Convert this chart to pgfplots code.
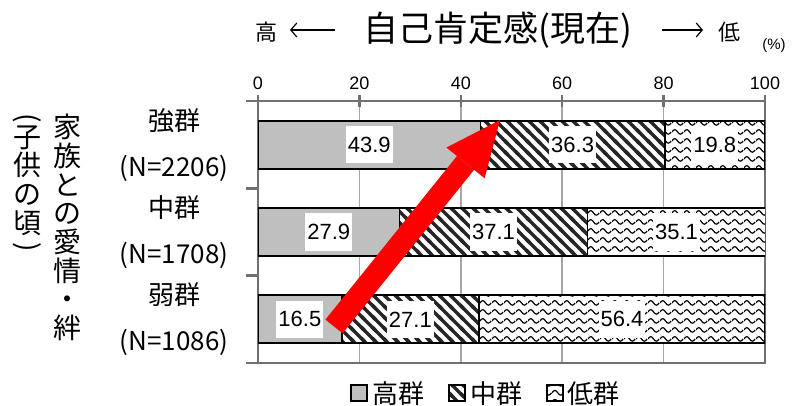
\documentclass[border=0pt]{standalone}
\usepackage{pgfplots}
\pgfplotsset{compat=1.18}
\usepackage{pgfplotstable}
\usepackage{fontspec}
\setmainfont{Liberation Sans}
\newfontfamily\jp{Noto Sans CJK JP}
\usetikzlibrary{patterns,arrows.meta}

\definecolor{axisgray}{HTML}{707070}
\definecolor{gridgray}{HTML}{A6A6A6}
\definecolor{bargray}{HTML}{BFBFBF}
\definecolor{stripe}{HTML}{262626}

% wide downward diagonal stripes
\pgfdeclarepatternformonly{diagstripes}{\pgfqpoint{-2pt}{-2pt}}{\pgfqpoint{13pt}{13pt}}{\pgfqpoint{11pt}{11pt}}{%
  \pgfsetlinewidth{3.5pt}%
  \pgfpathmoveto{\pgfqpoint{-2pt}{13pt}}\pgfpathlineto{\pgfqpoint{13pt}{-2pt}}%
  \pgfpathmoveto{\pgfqpoint{-2pt}{2pt}}\pgfpathlineto{\pgfqpoint{2pt}{-2pt}}%
  \pgfpathmoveto{\pgfqpoint{9pt}{13pt}}\pgfpathlineto{\pgfqpoint{13pt}{9pt}}%
  \pgfusepath{stroke}}

% horizontal wave lines
\pgfdeclarepatternformonly{waves}{\pgfqpoint{0pt}{0pt}}{\pgfqpoint{12pt}{9pt}}{\pgfqpoint{12pt}{9pt}}{%
  \pgfsetlinewidth{1.3pt}%
  \pgfpathmoveto{\pgfqpoint{0pt}{4.5pt}}%
  \pgfpathcurveto{\pgfqpoint{2pt}{7.8pt}}{\pgfqpoint{4pt}{7.8pt}}{\pgfqpoint{6pt}{4.5pt}}%
  \pgfpathcurveto{\pgfqpoint{8pt}{1.2pt}}{\pgfqpoint{10pt}{1.2pt}}{\pgfqpoint{12pt}{4.5pt}}%
  \pgfusepath{stroke}}

\pgfplotstableread{
pos hi mid lo
0 43.9 36.3 19.8
1 27.9 37.1 35.1
2 16.5 27.1 56.4
}\selfesteem
% centre of each stacked segment, for the value labels
\pgfplotstablecreatecol[create col/expr={\thisrow{hi}/2}]{chi}\selfesteem
\pgfplotstablecreatecol[create col/expr={\thisrow{hi}+\thisrow{mid}/2}]{cmid}\selfesteem
\pgfplotstablecreatecol[create col/expr={\thisrow{hi}+\thisrow{mid}+\thisrow{lo}/2}]{clo}\selfesteem

\pgfplotsset{
  frame/.style={
    at={(258pt,43pt)}, anchor=south west,
    width=507pt, height=262pt, scale only axis,
    xmin=0, xmax=100, ymin=-0.5, ymax=2.5, y dir=reverse,
  },
  seg/.style={draw=black, line width=1.8pt},
  vlabel/.style={draw=none, mark=none, point meta=explicit, nodes near coords,
    every node near coord/.append style={anchor=center, fill=white, inner xsep=2pt, inner ysep=11pt,
      text=black, font=\fontsize{22}{22}\selectfont},
    nodes near coords={\fontsize{22}{22}\selectfont
      \pgfmathprintnumber[fixed,fixed zerofill,precision=1,assume math mode=true]{\pgfplotspointmeta}}},
}

\begin{document}
\begin{tikzpicture}
\begin{axis}[
  frame,
  xbar stacked, bar width=0.55,
  axis line style={draw=axisgray, line width=2.5pt},
  xtick={0,20,40,60,80,100}, xtick pos=right, xticklabel pos=right,
  xmajorgrids, grid style={draw=gridgray, line width=1.5pt},
  ytick={-0.5,0.5,1.5,2.5}, yticklabels={}, ytick pos=left,
  extra y ticks={0,1,2},
  extra y tick labels={{強群\\(N=2206)},{中群\\(N=1708)},{弱群\\(N=1086)}},
  extra y tick style={grid=none, tick style={draw=none}},
  yticklabel style={align=center, font=\jp\fontsize{26}{46}\selectfont, xshift=-14pt},
  xticklabel style={font=\fontsize{18}{18}\selectfont, yshift=2pt},
  /pgf/number format/assume math mode=true,
  tick style={draw=axisgray, line width=2.5pt},
  major tick length=12pt,
  xtick align=center, ytick align=outside,
  legend style={at={(axis description cs:0.452,-0.115)}, anchor=center, draw=none, fill=none,
    legend columns=3, font=\jp\fontsize{26}{26}\selectfont,
    nodes={inner xsep=4pt},
    /tikz/every even column/.append style={column sep=20pt}},
  legend image code/.code={\draw[#1, line width=1.8pt] (0pt,-8pt) rectangle (16pt,8pt);},
]
\addplot[seg, fill=bargray] table[x=hi, y=pos] {\selfesteem};
\addlegendentry{高群}
\addplot[seg, fill=white, postaction={pattern=diagstripes, pattern color=stripe}] table[x=mid, y=pos] {\selfesteem};
\addlegendentry{中群}
\addplot[seg, fill=white, postaction={pattern=waves, pattern color=black}] table[x=lo, y=pos] {\selfesteem};
\addlegendentry{低群}
\end{axis}

% value labels and the trend arrow, over the bars
\begin{axis}[frame, hide axis, clip=false, /pgf/number format/assume math mode=true]
\addplot[vlabel] table[x=chi, y=pos, meta=hi] {\selfesteem};
\addplot[vlabel] table[x=cmid, y=pos, meta=mid] {\selfesteem};
\addplot[vlabel] table[x=clo, y=pos, meta=lo] {\selfesteem};
\coordinate (arrowtail) at (axis cs:14.99,2.082);
\coordinate (arrowtip) at (axis cs:47.73,-0.282);
\end{axis}
\draw[red, line width=22pt, -{Triangle[length=55pt, width=49pt, line width=0pt]}]
  (arrowtail) -- (arrowtip);

% heading above the scale
\node[font=\jp\fontsize{35}{35}\selectfont] at (498pt,376pt) {自己肯定感(現在)};
\node[font=\jp\fontsize{22}{22}\selectfont] at (266pt,374pt) {高};
\node[font=\jp\fontsize{22}{22}\selectfont] at (729.5pt,374pt) {低};
\draw[line width=1.2pt, {Straight Barb[length=6pt,width=14pt]}-] (290pt,376pt) -- (335pt,376pt);
\draw[line width=1.2pt, -{Straight Barb[length=6pt,width=14pt]}] (662pt,376pt) -- (703pt,376pt);
\node[font=\fontsize{15}{15}\selectfont] at (774pt,360pt) {(\%)};

% vertical group title
\node[font=\jp\fontsize{28}{28.7}\selectfont, align=center, inner sep=0pt] at (67pt,178.5pt)
  {家\\族\\と\\の\\愛\\情\\・\\絆};
\node[font=\jp\fontsize{28}{28.7}\selectfont, align=center, inner sep=0pt] at (27pt,225.5pt)
  {子\\供\\の\\頃};
\node[font=\jp\fontsize{28}{28}\selectfont, rotate=-90, inner sep=0pt] at (27pt,288pt) {(};
\node[font=\jp\fontsize{28}{28}\selectfont, rotate=-90, inner sep=0pt] at (27pt,159pt) {)};

\pgfresetboundingbox
\path[use as bounding box] (0pt,0pt) rectangle (792pt,406pt);
\end{tikzpicture}
\end{document}
